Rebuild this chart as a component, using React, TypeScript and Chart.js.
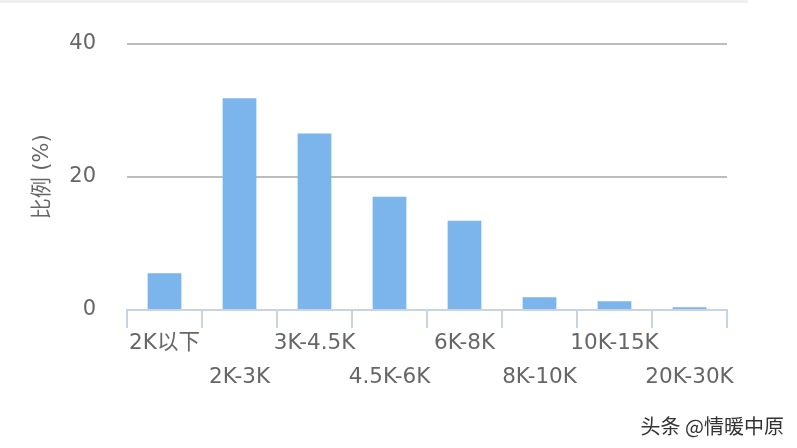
import React, { useEffect, useRef } from "react";
import { Chart, registerables } from "chart.js";

Chart.register(...registerables);

const categories: string[] = ["2K以下", "2K-3K", "3K-4.5K", "4.5K-6K", "6K-8K", "8K-10K", "10K-15K", "20K-30K"];
const shares: number[] = [5.5, 31.8, 26.5, 17.0, 13.4, 1.9, 1.3, 0.4];
const yTicks: number[] = [0, 20, 40];
const yTitle = "比例 (%)";
const watermark = "头条 @情暖中原";

const FONT = "'DejaVu Sans', 'Noto Sans CJK SC', sans-serif";
const CJK = "'Noto Sans CJK SC', sans-serif";

export default function App() {
  const ref = useRef<HTMLCanvasElement | null>(null);

  useEffect(() => {
    if (!ref.current) return;
    const labels = categories.map((c, i) => (i % 2 === 0 ? [c] : ["", c]));
    const chart = new Chart(ref.current, {
      type: "bar",
      data: {
        labels,
        datasets: [
          {
            data: shares,
            backgroundColor: "#7cb5ec",
            borderWidth: 0,
            barPercentage: 0.45,
            categoryPercentage: 1,
          },
        ],
      },
      options: {
        animation: false,
        responsive: false,
        maintainAspectRatio: false,
        layout: { padding: { top: 42, right: 70, bottom: 0, left: 0 } },
        plugins: { legend: { display: false }, tooltip: { enabled: false } },
        scales: {
          x: {
            grid: {
              offset: true,
              drawOnChartArea: false,
              drawTicks: true,
              tickLength: 18,
              color: "#c8d3e3",
              lineWidth: 2,
            },
            border: { display: true, color: "#c8d3e3", width: 2 },
            ticks: {
              autoSkip: false,
              maxRotation: 0,
              minRotation: 0,
              padding: -2,
              color: "#666666",
              font: { family: FONT, size: 21.5, lineHeight: 1.58 },
            },
            afterFit: (scale: any) => {
              scale.height = 138;
            },
          },
          y: {
            min: 0,
            max: 40,
            afterBuildTicks: (scale: any) => {
              scale.ticks = yTicks.map((v) => ({ value: v }));
            },
            grid: {
              drawTicks: false,
              color: (ctx: any) => (ctx.tick && ctx.tick.value === 0 ? "rgba(0,0,0,0)" : "#bdbdbd"),
              lineWidth: 2,
            },
            border: { display: false },
            ticks: {
              padding: 31,
              color: "#666666",
              font: { family: FONT, size: 21 },
            },
            title: {
              display: true,
              text: yTitle,
              color: "#666666",
              font: { family: FONT, size: 21 },
              padding: { top: 30, bottom: 0 },
            },
            afterFit: (scale: any) => {
              scale.width = 127;
            },
          },
        },
      },
    });
    return () => chart.destroy();
  }, []);

  return (
    <div style={{ position: "fixed", left: 0, top: 0, width: 797, height: 448, background: "#fff" }}>
      <div style={{ position: "absolute", left: 0, top: 0, width: 748, height: 3, background: "#efefef" }} />
      <canvas ref={ref} width={797} height={448} style={{ position: "absolute", left: 0, top: 0 }} />
      <div
        style={{
          position: "absolute",
          right: 13,
          top: 411,
          fontFamily: CJK,
          fontSize: 20,
          color: "#333",
          textShadow: "0 0 2px #fff",
          whiteSpace: "nowrap",
        }}
      >
        {watermark}
      </div>
    </div>
  );
}
